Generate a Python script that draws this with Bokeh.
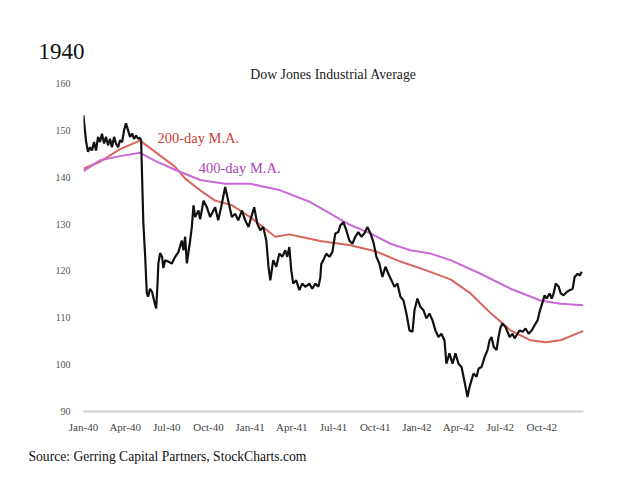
from bokeh.plotting import figure
from bokeh.models import Label, FixedTicker, Range1d, Title
from bokeh.embed import file_html
from bokeh.resources import INLINE

# ---- data (x = months since Jan 1940) ----
dow_month = [0.0, 0.04, 0.18, 0.32, 0.47, 0.61, 0.76, 0.90, 1.05, 1.19, 1.33, 1.48, 1.62, 1.77, 1.91,
             2.05, 2.20, 2.34, 2.49, 2.63, 2.78, 2.92, 3.06, 3.21, 3.35, 3.50, 3.64, 3.79, 3.93, 4.07,
             4.15, 4.20, 4.31, 4.43, 4.56, 4.65, 4.79, 4.94, 5.08, 5.23, 5.32, 5.39, 5.52, 5.66, 5.75,
             5.88, 6.09, 6.36, 6.60, 6.83, 7.08, 7.20, 7.32, 7.44, 7.68, 7.80, 7.92, 8.04, 8.28, 8.40,
             8.64, 8.88, 9.12, 9.36, 9.48, 9.70, 9.91, 10.20, 10.42, 10.68, 10.92, 11.14, 11.41, 11.64,
             11.88, 12.15, 12.29, 12.51, 12.73, 12.94, 13.16, 13.32, 13.45, 13.66, 13.88, 14.10, 14.31,
             14.53, 14.67, 14.82, 14.96, 15.10, 15.32, 15.54, 15.75, 15.97, 16.26, 16.47, 16.69, 16.91,
             17.05, 17.12, 17.27, 17.48, 17.70, 17.92, 18.13, 18.35, 18.49, 18.71, 18.92, 19.14, 19.36,
             19.57, 19.79, 20.01, 20.22, 20.44, 20.66, 20.87, 21.09, 21.30, 21.52, 21.74, 21.95, 22.17,
             22.39, 22.60, 22.82, 23.04, 23.25, 23.47, 23.69, 23.83, 24.04, 24.26, 24.48, 24.69, 24.91,
             25.12, 25.34, 25.56, 25.77, 25.99, 26.13, 26.35, 26.57, 26.78, 27.00, 27.22, 27.36, 27.51,
             27.65, 27.79, 27.94, 28.08, 28.30, 28.45, 28.66, 28.88, 29.09, 29.24, 29.38, 29.53, 29.74,
             29.88, 30.03, 30.17, 30.39, 30.53, 30.68, 30.89, 31.04, 31.25, 31.40, 31.62, 31.83, 32.05,
             32.27, 32.48, 32.70, 32.84, 33.06, 33.20, 33.35, 33.56, 33.71, 33.85, 34.00, 34.22, 34.36,
             34.57, 34.79, 35.00, 35.22, 35.36, 35.58, 35.73, 35.87]
dow_value = [153.2, 151.8, 147.8, 145.4, 146.4, 145.7, 147.5, 145.7, 148.6, 147.5, 149.3, 147.2, 148.6, 146.8, 148.2,
             146.4, 148.6, 147.2, 146.4, 147.9, 147.5, 150.0, 151.5, 150.0, 148.6, 149.3, 148.2, 148.9, 148.2, 148.4,
             147.8, 142.2, 130.1, 123.7, 115.2, 114.5, 116.2, 115.5, 113.7, 112.0, 116.6, 121.6, 123.8, 123.0, 120.6,
             122.3, 122.0, 121.6, 123.0, 124.0, 126.5, 124.4, 127.3, 121.6, 126.5, 129.4, 134.0, 131.5, 132.9, 131.0,
             135.0, 133.6, 131.5, 132.9, 133.6, 130.8, 133.6, 137.9, 135.0, 131.5, 132.2, 130.8, 132.9, 130.8,
             129.4, 132.2, 133.6, 130.1, 128.7, 129.4, 126.5, 120.9, 118.0, 122.3, 120.9, 123.7, 123.0,
             124.4, 123.0, 125.1, 120.1, 117.3, 118.0, 115.9, 117.3, 116.6, 117.3, 116.2, 117.3, 116.6,
             118.5, 121.5, 122.3, 123.7, 123.0, 124.0, 128.0, 128.3, 129.7, 130.4, 128.7, 126.5, 125.8,
             127.3, 128.3, 127.3, 128.0, 129.4, 128.0, 126.2, 123.0, 121.6, 118.7, 120.9, 119.4, 118.0,
             116.6, 117.3, 114.5, 113.7, 110.9, 107.3, 107.0, 111.6, 114.1, 112.3, 111.6, 109.9, 110.9,
             109.5, 107.3, 105.9, 106.6, 105.2, 100.2, 102.4, 100.2, 102.4, 100.2, 99.5, 97.4, 95.2,
             93.1, 95.2, 96.7, 98.1, 97.4, 99.2, 99.5, 101.6, 103.1, 105.2, 105.9, 103.8, 103.1,
             105.9, 108.0, 108.8, 108.0, 107.0, 105.9, 106.6, 105.6, 106.6, 107.3, 107.0, 107.7, 106.6,
             107.3, 108.4, 109.5, 111.3, 113.4, 114.8, 114.1, 115.2, 114.1, 115.2, 117.3, 116.6, 115.2,
             114.8, 115.5, 115.9, 116.2, 118.7, 119.4, 119.0, 119.8]

ma200_month = [0.0, 1.19, 2.63, 4.07, 5.52, 6.60, 7.32, 8.40, 9.48, 10.7, 12.0, 12.73, 13.81, 14.82,
               15.61, 17.05, 19.21, 21.02, 22.82, 24.98, 26.42, 27.87, 29.31, 30.75, 32.19, 33.27,
               34.35, 36.0]
ma200_value = [141.8, 143.3, 146.0, 147.8, 144.6, 142.2, 139.7, 137.2, 135.0, 134.0, 131.5, 129.8, 127.3, 127.8,
               127.3, 126.4, 125.5, 124.2, 122.0, 119.8, 118.2, 115.2, 111.0, 107.3, 105.2, 104.8,
               105.2, 107.2]

ma400_month = [0.0, 1.19, 2.63, 4.07, 5.16, 6.60, 8.40, 10.20, 12.0, 14.17, 16.33, 18.49, 19.21, 20.66,
               22.1, 23.54, 24.98, 26.42, 28.59, 30.75, 32.91, 34.35, 36.0]
ma400_value = [141.3, 143.6, 144.5, 145.2, 143.5, 141.6, 139.4, 138.6, 138.6, 137.2, 134.7, 131.0, 129.8, 128.0,
               125.8, 124.4, 123.7, 122.3, 119.4, 116.2, 113.7, 113.0, 112.7]

tick_months = [0, 3, 6, 9, 12, 15, 18, 21, 24, 27, 30, 33]
tick_labels = ["Jan-40", "Apr-40", "Jul-40", "Oct-40", "Jan-41", "Apr-41", "Jul-41", "Oct-41",
               "Jan-42", "Apr-42", "Jul-42", "Oct-42"]
y_ticks = [90, 100, 110, 120, 130, 140, 150, 160]

FONT = "Liberation Serif"

p = figure(width=624, height=475, output_backend="svg", toolbar_location=None,
           x_range=Range1d(0, 36), y_range=Range1d(90, 160),
           min_border_left=83, min_border_right=41, min_border_top=83, min_border_bottom=64)
p.outline_line_color = None
p.grid.visible = False
p.background_fill_color = "white"
p.border_fill_color = "white"

p.title.text = "1940"
p.title.align = "left"
p.title.offset = -45
p.title.text_font = FONT
p.title.text_font_size = "23px"
p.title.text_font_style = "normal"
p.title.text_color = "#111111"
p.title.standoff = 7

p.add_layout(Title(text="Dow Jones Industrial Average", align="center", text_font=FONT,
                   text_font_size="13.8px", text_font_style="normal", text_color="#222222",
                   standoff=4), "above")
p.add_layout(Title(text="Source: Gerring Capital Partners, StockCharts.com", align="left", offset=-55,
                   text_font=FONT, text_font_size="13.6px", text_font_style="normal",
                   text_color="#111111", standoff=23), "below")

p.line(ma200_month, ma200_value, line_color="#d9665e", line_width=2)
p.line(ma400_month, ma400_value, line_color="#c86ad6", line_width=2)
p.line(dow_month, dow_value, line_color="#111111", line_width=2.2)

xa = p.xaxis[0]
xa.ticker = FixedTicker(ticks=tick_months)
xa.major_label_overrides = {m: l for m, l in zip(tick_months, tick_labels)}
xa.axis_line_color = "#d0d0d0"
xa.axis_line_width = 2
xa.major_tick_line_color = None
xa.minor_tick_line_color = None
xa.major_label_standoff = 3
xa.major_label_text_font = FONT
xa.major_label_text_font_size = "11px"
xa.major_label_text_color = "#444444"

ya = p.yaxis[0]
ya.ticker = FixedTicker(ticks=y_ticks)
ya.axis_line_color = None
ya.major_tick_line_color = None
ya.minor_tick_line_color = None
ya.major_label_standoff = 7
ya.major_label_text_font = FONT
ya.major_label_text_font_size = "10px"
ya.major_label_text_color = "#555555"

def lab(x, y, text, size, color):
    p.add_layout(Label(x=x, y=y, text=text, text_font=FONT, text_font_size=size,
                       text_color=color, text_align="left", text_baseline="middle"))

lab(5.32, 148.3, "200-day M.A.", "14.5px", "#c8413b")
lab(8.3, 141.9, "400-day M.A.", "14.5px", "#a844b8")

open("out.html", "w").write(file_html(p, INLINE))
